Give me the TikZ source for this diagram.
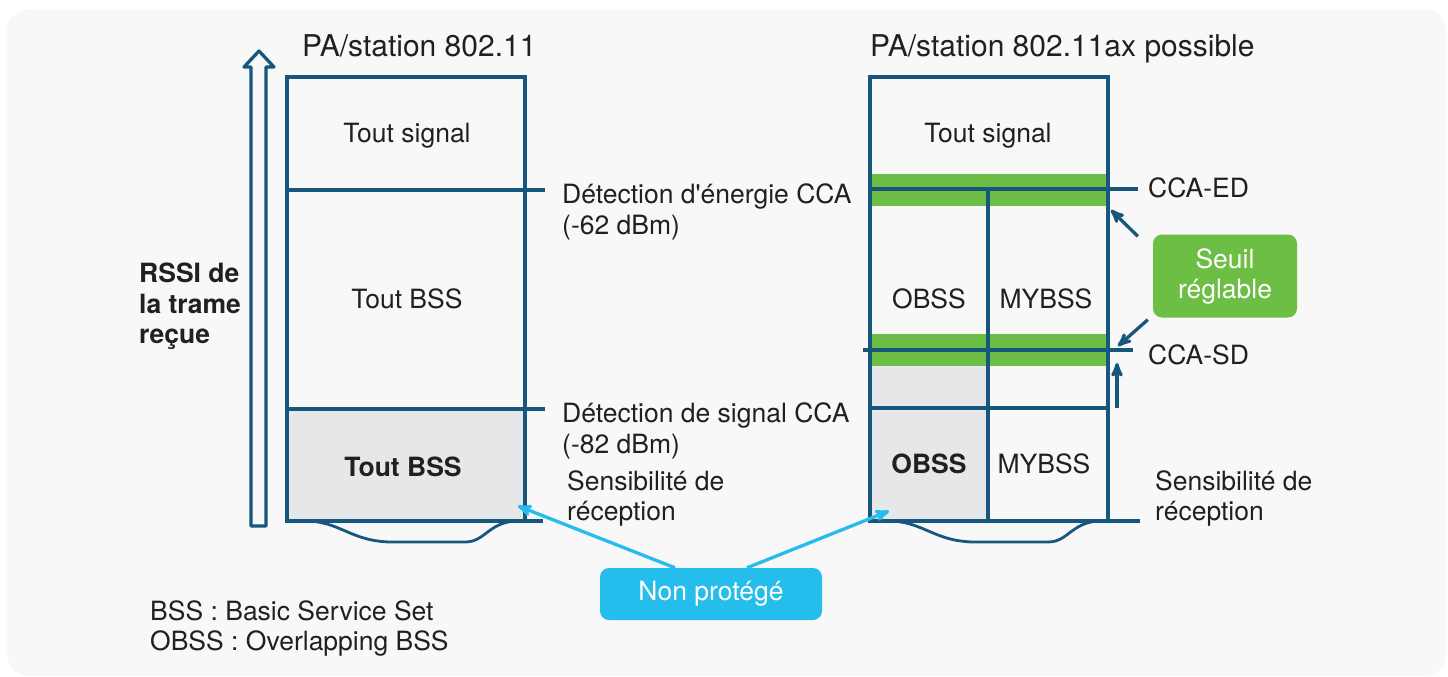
\documentclass[tikz,border=0pt]{standalone}
\usepackage{fontspec}
\setmainfont{TeX Gyre Heros}[Ligatures=TeXOff]
\usepackage{tikz}
\usetikzlibrary{arrows}
\usetikzlibrary{positioning}

\definecolor{cbleu}{HTML}{17577E}
\definecolor{cvert}{HTML}{6CBE45}
\definecolor{ccyan}{HTML}{25BDEB}
\definecolor{cgris}{HTML}{E6E7E9}
\definecolor{ctexte}{HTML}{231F20}
\definecolor{cfond}{HTML}{F8F8F8}

\begin{document}
\begin{tikzpicture}[x=1pt,y=-1pt,>=stealth',
  trait/.style={draw=cbleu,line width=3.3pt},
  fleche/.style={->,draw=cbleu,line width=3.3pt},
  txt/.style={inner sep=0pt,text=ctexte,font=\fontsize{26.5}{30}\selectfont},
  gras/.style={txt,font=\fontsize{26.5}{30}\selectfont\bfseries},
  titre/.style={txt,font=\fontsize{30}{34}\selectfont},
  bulle/.style={rounded corners=9pt,inner sep=0pt,text=white,align=center,
    font=\fontsize{26.5}{30}\selectfont}]

  \useasboundingbox (0,0) rectangle (1448,677);
  \fill[cfond,rounded corners=22pt] (7,9) rectangle (1446,676);

  % axe RSSI
  \draw[trait,line join=round] (251,526) -- (251,67) -- (244,67) -- (259,51)
    -- (274,67) -- (266,67) -- (266,526) -- cycle;
  \node[gras,anchor=base west] (r1) at (139,282) {RSSI de};
  \node[gras,below=31pt of r1.base west,anchor=base west] (r2) {la trame};
  \node[gras,below=30pt of r2.base west,anchor=base west] (r3) {reçue};

  % colonne 802.11
  \fill[cgris] (287,409) rectangle (525,521);
  \draw[trait] (287,77) rectangle (525,521);
  \draw[trait] (287,190) -- (545,190);
  \draw[trait] (287,409) -- (545,409);
  \draw[trait] (287,521) -- (543,521);

  % colonne 802.11ax
  \fill[cvert] (870,174) rectangle (1108,206);
  \fill[cvert] (870,334) rectangle (1108,366);
  \fill[cgris] (870,366) rectangle (988,521);
  \draw[trait] (870,77) rectangle (1108,521);
  \draw[trait] (870,189) -- (1138,189);
  \draw[trait] (863,350) -- (1133,350);
  \draw[trait] (870,408) -- (1108,408);
  \draw[trait] (988,189) -- (988,521);
  \draw[trait] (870,521) -- (1140,521);

  % bas des colonnes
  \foreach \dx in {0,583}
    \draw[trait,line width=2.8pt] (305+\dx,521) .. controls (340+\dx,521) and (350+\dx,541) .. (390+\dx,542)
      -- (465+\dx,542) .. controls (485+\dx,542) and (488+\dx,523) .. (515+\dx,521);

  % titres
  \node[titre,anchor=base west] (t1) at (302,57) {PA/station 802.11};
  \node[titre,anchor=base west] (t2) at (870,57) {PA/station 802.11ax possible};

  % textes de la colonne 802.11
  \node[txt,anchor=base] (g1) at (407,142) {Tout signal};
  \node[txt,anchor=base] (g2) at (407,308) {Tout BSS};
  \node[gras,anchor=base] (g3) at (403,476) {Tout BSS};

  % textes de la colonne 802.11ax
  \node[txt,anchor=base] (d1) at (988,142) {Tout signal};
  \node[txt,anchor=base] (d2) at (929,308) {OBSS};
  \node[txt,anchor=base] (d3) at (1046,308) {MYBSS};
  \node[gras,anchor=base] (d4) at (929,473) {OBSS};
  \node[txt,anchor=base] (d5) at (1044,473) {MYBSS};

  % seuils
  \node[txt,anchor=base west] (ed1) at (562,203) {Détection d'énergie CCA};
  \node[txt,below=31pt of ed1.base west,anchor=base west] (ed2) {(-62 dBm)};
  \node[txt,anchor=base west] (sd1) at (562,422) {Détection de signal CCA};
  \node[txt,below=31pt of sd1.base west,anchor=base west] (sd2) {(-82 dBm)};
  \node[txt,anchor=base west] (se1) at (567,490) {Sensibilité de};
  \node[txt,below=30pt of se1.base west,anchor=base west] (se2) {réception};
  \node[txt,anchor=base west] (ced) at (1148,197) {CCA-ED};
  \node[txt,anchor=base west] (csd) at (1148,364) {CCA-SD};
  \node[txt,anchor=base west] (sf1) at (1155,490) {Sensibilité de};
  \node[txt,below=30pt of sf1.base west,anchor=base west] (sf2) {réception};

  % seuil reglable
  \node[bulle,fill=cvert,minimum width=144pt,minimum height=83pt] (seuil) at (1225,276) {Seuil\\réglable};
  \coordinate (ed) at (1111,210);
  \coordinate (sd) at (1118,346);
  \coordinate (sb) at (1117,408);
  \coordinate (sh) at (1117,363);
  \draw[fleche] (seuil.north west) ++(-15,2) -- (ed);
  \draw[fleche] (seuil.south west) ++(-5,2) -- (sd);
  \draw[fleche] (sb) -- (sh);

  % non protege
  \node[bulle,fill=ccyan,minimum width=222pt,minimum height=52pt] (np) at (711,594) {Non protégé};
  \coordinate (pg) at (518,506);
  \coordinate (pd) at (889,511);
  \draw[->,draw=ccyan,line width=3.3pt] ([xshift=-36pt]np.north) -- (pg);
  \draw[->,draw=ccyan,line width=3.3pt] ([xshift=36pt]np.north) -- (pd);

  % legende
  \node[txt,anchor=base west] (l1) at (150,620) {BSS : Basic Service Set};
  \node[txt,below=30pt of l1.base west,anchor=base west] (l2) {OBSS : Overlapping BSS};
\end{tikzpicture}
\end{document}
